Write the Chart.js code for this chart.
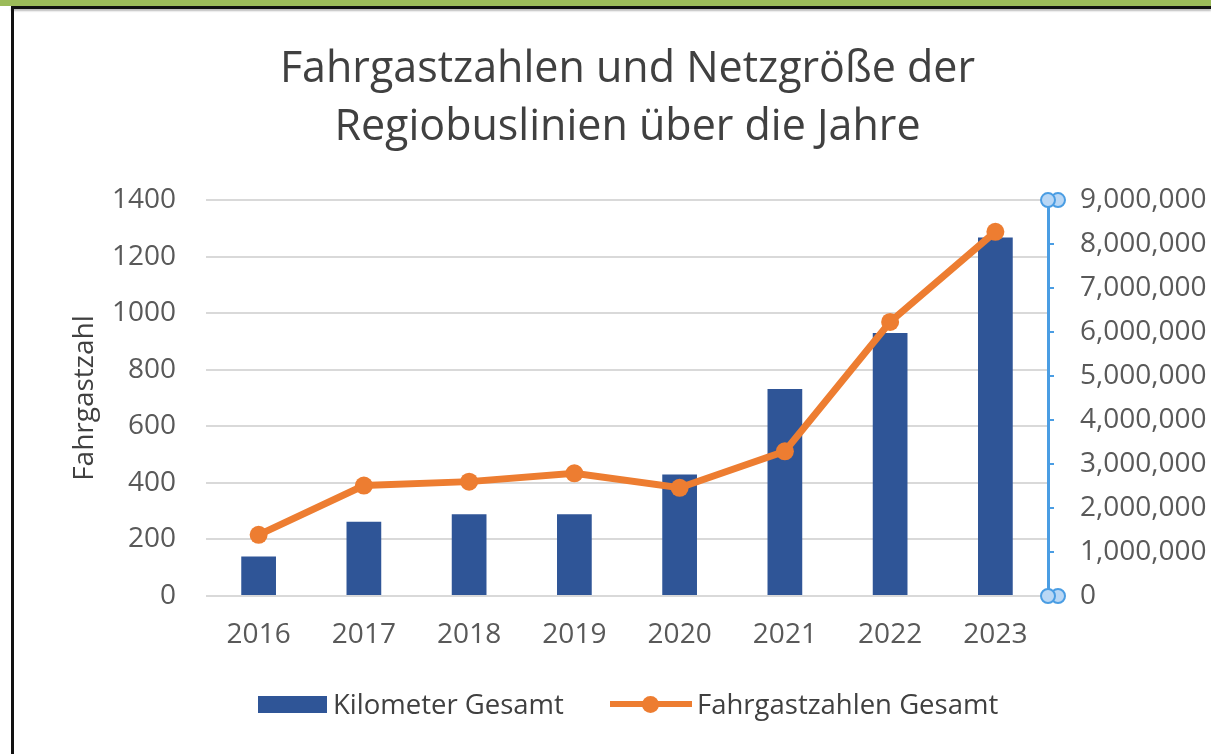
<!DOCTYPE html>
<html>
<head>
<meta charset="utf-8">
<script src="https://cdn.jsdelivr.net/npm/chart.js@4"></script>
<style>
    body { margin: 0; background: #fff; width: 1211px; height: 754px; overflow: hidden; position: relative; font-family: "Open Sans", sans-serif; }
    #topbar { position: absolute; left: 0; top: 0; width: 1211px; height: 6px; background: #9bbb59; }
    #topline { position: absolute; left: 11px; top: 6px; width: 1200px; height: 3px; background: #111; box-shadow: 0 2px 2px #bbb; }
    #leftline { position: absolute; left: 11px; top: 6px; width: 3px; height: 748px; background: #111; }
    #wrap { position: absolute; left: 0; top: 0; width: 1211px; height: 754px; }
    #legend { position: absolute; top: 688px; left: 0; width: 1211px; height: 32px; color: #404040; font-size: 27.5px; }
    .item { position: absolute; top: 0; height: 32px; line-height: 32px; white-space: nowrap; }
    .box { position: absolute; top: 8px; width: 69px; height: 17px; background: #2f5597; }
    .ln { position: absolute; top: 13px; width: 82px; height: 6px; background: #ed7d31; }
    .dot { position: absolute; top: 8px; left: 32px; width: 17px; height: 17px; border-radius: 50%; background: #ed7d31; }
</style>
</head>
<body>
<div id="wrap"><canvas id="chart" width="1211" height="754"></canvas></div>
<div id="topbar"></div>
<div id="topline"></div>
<div id="leftline"></div>
<div id="legend">
    <div class="item" style="left:258px;"><div class="box" style="left:0;"></div><span style="margin-left:75px;">Kilometer Gesamt</span></div>
    <div class="item" style="left:610px;"><div class="ln" style="left:0;"></div><div class="dot"></div><span style="margin-left:87px;">Fahrgastzahlen Gesamt</span></div>
</div>
<script>
var years = ["2016", "2017", "2018", "2019", "2020", "2021", "2022", "2023"];
var kilometer = [140, 263, 289, 289, 430, 732, 930, 1268];
var fahrgaeste = [1390000, 2510000, 2600000, 2790000, 2460000, 3290000, 6230000, 8280000];
var titleLines = ["Fahrgastzahlen und Netzgröße der", "Regiobuslinien über die Jahre"];

// blue selection handles on the secondary axis
var handles = {
    id: "handles",
    afterDraw: function(chart){
        var s = chart.scales.y2;
        var ctx = chart.ctx;
        ctx.save();
        [s.top, s.bottom].forEach(function(yy){
            [s.left + 10, s.left].forEach(function(xx){
                ctx.beginPath();
                ctx.arc(xx, yy, 7, 0, Math.PI * 2);
                ctx.fillStyle = "#b9d7f5";
                ctx.fill();
                ctx.lineWidth = 2;
                ctx.strokeStyle = "#4a9de3";
                ctx.stroke();
            });
        });
        ctx.restore();
    }
};

var ctx = document.getElementById("chart");

new Chart(ctx, {
    data: {
        labels: years,
        datasets: [{
            type: "line",
            label: "Fahrgastzahlen Gesamt",
            data: fahrgaeste,
            yAxisID: "y2",
            borderColor: "#ed7d31",
            backgroundColor: "#ed7d31",
            borderWidth: 7,
            pointRadius: 9,
            pointBorderWidth: 0,
            tension: 0,
            order: 0
        }, {
            type: "bar",
            label: "Kilometer Gesamt",
            data: kilometer,
            yAxisID: "y",
            backgroundColor: "#2f5597",
            categoryPercentage: 1,
            barPercentage: 0.33,
            order: 1
        }]
    },
    plugins: [handles],
    options: {
        responsive: false,
        animation: false,
        layout: { padding: { left: 44, right: 0, top: 0, bottom: 78 } },
        plugins: {
            legend: { display: false },
            tooltip: { enabled: false },
            title: {
                display: true,
                text: titleLines,
                color: "#404040",
                font: { family: "Open Sans", size: 43, weight: "normal", lineHeight: 1.35 },
                padding: { top: 41, bottom: 43 }
            }
        },
        scales: {
            x: {
                grid: { display: false, drawTicks: false },
                border: { display: false },
                ticks: { color: "#595959", font: { family: "Open Sans", size: 28 }, padding: 22 },
                afterFit: function(s){ s.height = 80; }
            },
            y: {
                position: "left",
                min: 0,
                max: 1400,
                ticks: {
                    stepSize: 200,
                    color: "#595959",
                    font: { family: "Open Sans", size: 28 },
                    padding: 30,
                    callback: function(v){ return String(v); }
                },
                grid: { color: "#d9d9d9", lineWidth: 2, drawTicks: false },
                border: { display: false },
                title: {
                    display: true,
                    text: "Fahrgastzahl",
                    color: "#404040",
                    font: { family: "Open Sans", size: 28, lineHeight: 1.2 },
                    padding: { top: 24, bottom: 0 }
                },
                afterFit: function(s){ s.width = 162; }
            },
            y2: {
                position: "right",
                min: 0,
                max: 9000000,
                ticks: {
                    stepSize: 1000000,
                    color: "#595959",
                    font: { family: "Open Sans", size: 28 },
                    padding: 26,
                    callback: function(v){ return v.toLocaleString("en-US"); }
                },
                grid: { drawOnChartArea: false, color: "#4a9de3", lineWidth: 2, tickLength: 6 },
                border: { display: true, color: "#4a9de3", width: 3 },
                afterFit: function(s){ s.width = 163; }
            }
        }
    }
});
</script>
</body>
</html>
